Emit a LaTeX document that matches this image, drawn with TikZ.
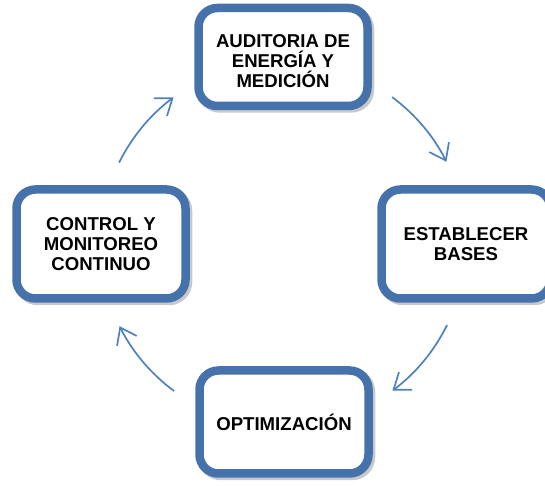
\documentclass[tikz,border=0pt]{standalone}
\usepackage{fontspec}
\setmainfont{Liberation Sans}
\usetikzlibrary{arrows.meta,calc,shadows}
\definecolor{StageBlue}{HTML}{4672AC}
\definecolor{ArrowBlue}{HTML}{4F81BD}
\tikzset{
  stagebox/.style={draw=StageBlue,line width=8.5pt,fill=white,rounded corners=19pt,
    minimum width=169pt,align=center,inner sep=2pt,
    font=\fontsize{18.6}{20}\selectfont\bfseries,
    drop shadow={shadow xshift=2.5pt,shadow yshift=-2.5pt,opacity=.3,
      fill=black!70,draw=black!70,line width=8.5pt}},
  cyclearrow/.style={draw=ArrowBlue,line width=1.7pt,
    -{Straight Barb[length=15pt,width=22pt]}}
}

\begin{document}
\begin{tikzpicture}[x=1pt,y=1pt]
  \useasboundingbox (0,0) rectangle (545,486);
  \coordinate (hub) at (283,242);
  \node[stagebox,minimum height=98pt] (audit) at (283,429)
    {\rule{0pt}{21pt}AUDITORIA DE\\ENERGÍA Y\\MEDICIÓN};
  \node[stagebox,minimum height=109pt] (bases) at (466,242)
    {ESTABLECER\\BASES};
  \node[stagebox,minimum height=103pt] (optim) at (284,64)
    {OPTIMIZACIÓN};
  \node[stagebox,minimum height=109pt] (control) at (101,242)
    {CONTROL Y\\MONITOREO\\CONTINUO};
  \foreach \i/\s/\e in {1/53.4/26.7,2/-26.3/-53.3,3/233.5/206.7,4/153.6/126.7}{
    \coordinate (arc\i) at ($(hub)+(\s:183)$);
    \draw[cyclearrow] (arc\i) arc[start angle=\s,end angle=\e,radius=183];
  }
\end{tikzpicture}
\end{document}
